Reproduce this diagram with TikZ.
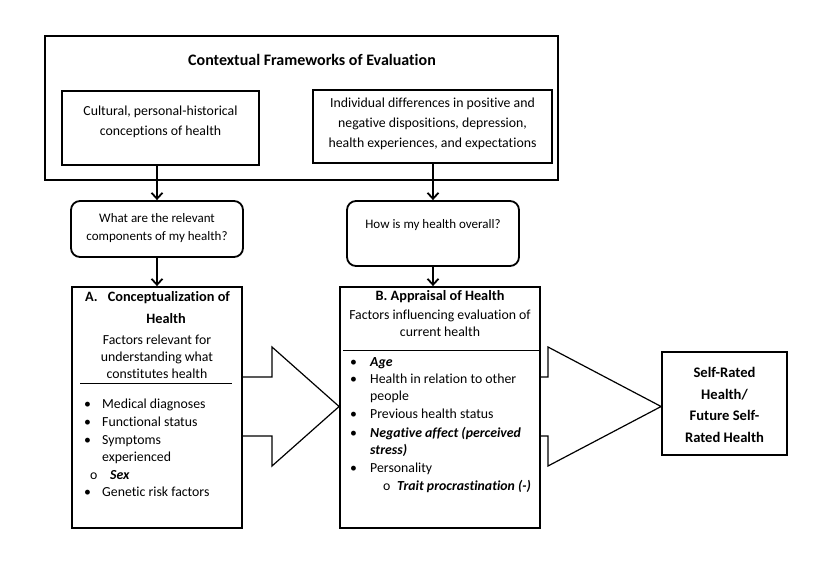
\documentclass[tikz,border=0pt]{standalone}
\usepackage{fontspec}
\setmainfont{Carlito}[Ligatures=NoCommon]
\usetikzlibrary{positioning, arrows.meta, calc}

\begin{document}
\begin{tikzpicture}[
        x=1pt, y=-1pt,
        >={Straight Barb[length=6pt,width=11pt]},
        frame/.style={draw, line width=1.8pt, inner sep=0pt},
        question/.style={frame, rounded corners=9pt},
        label/.style={inner sep=0pt, align=center, font=\fontsize{13.8}{20}\selectfont},
        head/.style={inner sep=0pt, font=\fontsize{14.3}{20}\selectfont\bfseries},
        item/.style={inner sep=0pt, anchor=west, text height=10pt, text depth=3pt, font=\fontsize{13.8}{15}\selectfont},
        flow/.style={->, line width=1.8pt},
        bigarrow/.style={draw, line width=1.2pt, line join=miter},
    ]
    \useasboundingbox (0,0) rectangle (835,573);

    % Contextual frameworks
    \node[frame, minimum width=513pt, minimum height=144pt] (ctx) at (301.5,108) {};
    \node[head, font=\fontsize{16}{20}\selectfont\bfseries] (ctx-title) at (312,60) {Contextual Frameworks of Evaluation};
    \node[frame, minimum width=197pt, minimum height=74pt] (cult) at (160.5,128) {};
    \node[label] (cult-txt) at (160.5,122) {Cultural, personal-historical\\conceptions of health};
    \node[frame, minimum width=239pt, minimum height=73pt] (indiv) at (432.5,126.5) {};
    \node[label] (indiv-txt) at (432.5,124) {Individual differences in positive and\\negative dispositions, depression,\\health experiences, and expectations};

    % Questions
    \node[question, minimum width=172pt, minimum height=56pt] (q1) at (157,229) {};
    \node[label, font=\fontsize{13}{18}\selectfont] (q1-txt) at (157,228) {What are the relevant\\components of my health?};
    \node[question, minimum width=172pt, minimum height=65pt] (q2) at (433,233.5) {};
    \node[label, font=\fontsize{13}{18}\selectfont] (q2-txt) at (433,225) {How is my health overall?};

    % Main boxes
    \node[frame, minimum width=170pt, minimum height=241pt] (A) at (157,407.5) {};
    \node[frame, minimum width=200pt, minimum height=241pt] (B) at (440,407.5) {};
    \node[frame, minimum width=125pt, minimum height=103pt] (srh) at (724.5,403.5) {};
    \node[head, align=center, font=\fontsize{14.6}{21.7}\selectfont\bfseries] (srh-txt) at (724.5,405) {Self-Rated\\Health/\\Future Self-\\Rated Health};

    % Connectors
    \draw[flow] (cult.south -| q1.north) -- (q1.north);
    \draw[flow] (indiv.south -| q2.north) -- (q2.north);
    \draw[flow] (q1.south) -- (q1.south |- A.north);
    \draw[flow] (q2.south) -- (q2.south |- B.north);

    % Block arrows
    \draw[bigarrow] (A.east |- 0,377) -- (272,377) -- (272,347) -- (B.west |- 0,406.5) -- (272,466) -- (272,436) -- (A.east |- 0,436);
    \draw[bigarrow] (B.east |- 0,377) -- (548,377) -- (548,347) -- (srh.west |- 0,406.5) -- (548,466) -- (548,436) -- (B.east |- 0,436);

    % A. Conceptualization
    \node[head, anchor=west] (A-title) at (85,298) {A.\hspace{10pt}Conceptualization of};
    \node[head] (A-title2) at (166,319) {Health};
    \node[label, font=\fontsize{13.8}{17}\selectfont] (A-sub) at (157,357) {Factors relevant for\\understanding what\\constitutes health};
    \draw[line width=0.8pt] (80,383) -- (232,383);
    \foreach \y/\t in {405/Medical diagnoses, 423/Functional status, 441/Symptoms, 493/Genetic risk factors}{
        \node[item] (A-dot-\y) at (84,\y) {\textbullet};
        \node[item] (A-item-\y) at (102,\y) {\t};
    }
    \node[item] (A-item-458) at (102,458) {experienced};
    \node[item] (A-dot-476) at (90,476) {o};
    \node[item] (A-item-476) at (110,476) {\textbf{\textit{Sex}}};

    % B. Appraisal
    \node[head] (B-title) at (440,297) {B. Appraisal of Health};
    \node[label, font=\fontsize{13.8}{17}\selectfont] (B-sub) at (440,323) {Factors influencing evaluation of\\current health};
    \draw[line width=0.8pt] (343,350) -- (540,350);
    \foreach \y/\t in {363/{\textbf{\textit{Age}}}, 380/Health in relation to other, 415/Previous health status, 434/{\textbf{\textit{Negative affect (perceived}}}, 469/Personality}{
        \node[item] (B-dot-\y) at (350,\y) {\textbullet};
        \node[item] (B-item-\y) at (370,\y) {\t};
    }
    \node[item] (B-item-397) at (370,397) {people};
    \node[item] (B-item-451) at (370,451) {\textbf{\textit{stress)}}};
    \node[item] (B-dot-487) at (383,487) {o};
    \node[item] (B-item-487) at (397,487) {\textbf{\textit{Trait procrastination (-)}}};
\end{tikzpicture}
\end{document}
